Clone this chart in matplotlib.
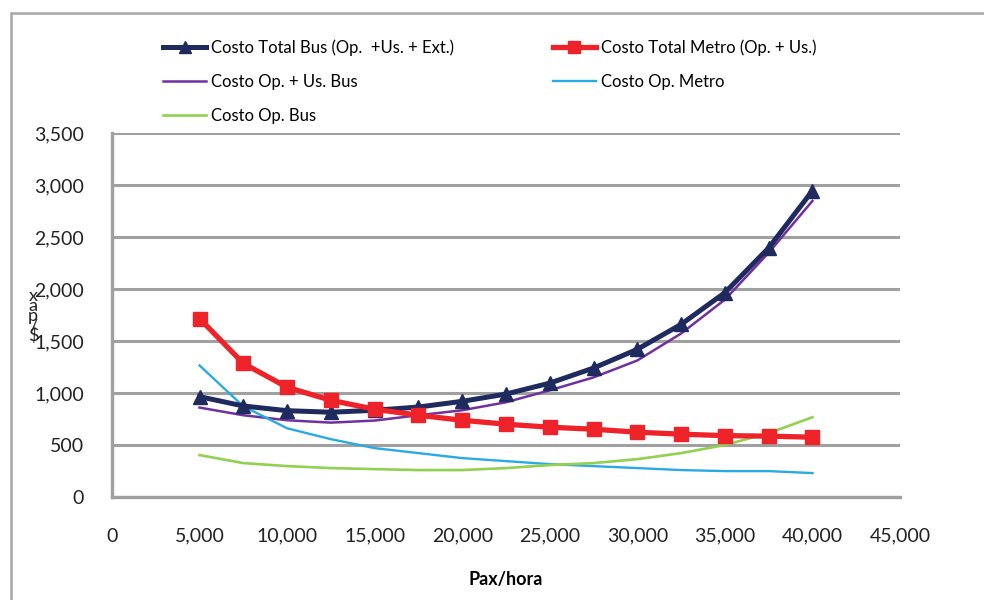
import matplotlib
matplotlib.use("Agg")
import matplotlib.pyplot as plt
from matplotlib.patches import Rectangle
from matplotlib.ticker import FuncFormatter

plt.rcParams['font.family'] = ['Lato', 'DejaVu Sans']

# datos
pax = [5000, 7500, 10000, 12500, 15000, 17500, 20000, 22500, 25000,
       27500, 30000, 32500, 35000, 37500, 40000]
total_bus = [965, 875, 830, 815, 834, 865, 920, 990, 1095, 1240, 1420,
             1660, 1965, 2395, 2945]
total_metro = [1716, 1285, 1055, 930, 844, 786, 738, 700, 671, 652, 623,
               604, 590, 585, 575]
op_us_bus = [860, 786, 738, 715, 735, 786, 834, 911, 1026, 1150, 1313,
             1572, 1898, 2349, 2847]
op_metro = [1265, 872, 661, 556, 470, 422, 374, 345, 316, 297, 278, 259,
            249, 249, 230]
op_bus = [403, 326, 297, 278, 268, 259, 259, 278, 307, 326, 364, 422,
          500, 614, 767]

fig = plt.figure(figsize=(9.84, 6), dpi=100)
ax = fig.add_axes([112/984, 1-497/600, (900-112)/984, (497-133)/600])

grid_c = '#A0A0A0'
l1, = ax.plot(pax, total_bus, color='#1F2A5E', lw=3.6, marker='^', ms=10,
              label='Costo Total Bus (Op.  +Us. + Ext.)', zorder=5)
l2, = ax.plot(pax, total_metro, color='#EE2229', lw=3.8, marker='s', ms=10,
              label='Costo Total Metro (Op. + Us.)', zorder=6)
l3, = ax.plot(pax, op_us_bus, color='#7030A0', lw=1.8,
              label='Costo Op. + Us. Bus', zorder=4)
l4, = ax.plot(pax, op_metro, color='#29ABE2', lw=1.7,
              label='Costo Op. Metro', zorder=4)
l5, = ax.plot(pax, op_bus, color='#92D050', lw=1.9,
              label='Costo Op. Bus', zorder=4)

ax.set_xlim(0, 45000)
ax.set_ylim(0, 3500)
ax.set_xticks(range(0, 45001, 5000))
ax.set_yticks(range(0, 3501, 500))
fmt = FuncFormatter(lambda v, p: f'{int(v):,}')
ax.xaxis.set_major_formatter(fmt)
ax.yaxis.set_major_formatter(fmt)
ax.tick_params(length=0, labelsize=14, colors='#222222')
ax.tick_params(axis='x', pad=22)
ax.tick_params(axis='y', pad=20)
ax.grid(axis='y', color=grid_c, lw=2.2)
ax.set_axisbelow(True)
for s in ['top', 'right']:
    ax.spines[s].set_visible(False)
for s in ['left', 'bottom']:
    ax.spines[s].set_color(grid_c)
    ax.spines[s].set_linewidth(2.4)

ax.set_xlabel('Pax/hora', fontsize=13, fontweight='bold', labelpad=19)

fig.text(33/984, 1-316/600, 'x\na\np\n/\n$', fontsize=13, ha='center',
         va='center', linespacing=0.55, color='#222222')

leg = fig.legend(handles=[l1, l3, l5, l2, l4], ncol=2, loc='upper left',
                 bbox_to_anchor=(163/984, 1-39/600), frameon=False,
                 fontsize=12, handlelength=2.6, handletextpad=0.3,
                 columnspacing=5.9, labelspacing=1.08, borderaxespad=0,
                 borderpad=0, markerscale=0.85)

# marco exterior
fig.add_artist(Rectangle((11/984, -0.1), 1.2, 1 - 13/600 + 0.1,
                         transform=fig.transFigure, fill=False,
                         edgecolor='#A6A6A6', lw=1.8))

fig.savefig('out.png', dpi=100)
